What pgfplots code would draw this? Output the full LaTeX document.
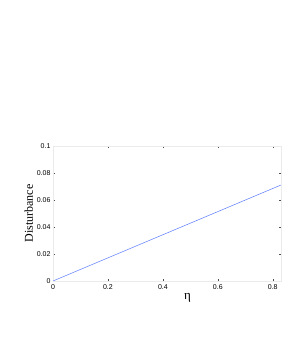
\documentclass[border=0pt]{standalone}
\usepackage{pgfplots}
\pgfplotsset{compat=1.18}
\usepackage{fontspec}
\setmainfont{Liberation Serif}
\newfontfamily\tickfont{Liberation Sans}
\begin{document}
\begin{tikzpicture}[x=1pt,y=1pt]
\useasboundingbox (-53,-82) rectangle (228,281);
\begin{axis}[
  at={(0,0)}, anchor=south west,
  scale only axis,
  width=228pt, height=135pt,
  xmin=0, xmax=0.83, ymin=0, ymax=0.1,
  xtick={0,0.2,0.4,0.6,0.8},
  ytick={0,0.02,0.04,0.06,0.08,0.1},
  xticklabels={0,0.2,0.4,0.6,0.8},
  yticklabels={0,0.02,0.04,0.06,0.08,0.1},
  axis line style={black!8},
  tick style={black!70, line width=0.5pt},
  major tick length=2pt,
  tick align=inside,
  ticklabel style={font=\tickfont\fontsize{7}{8}\selectfont},
  xticklabel style={yshift=0pt},
  yticklabel style={xshift=1pt},
  xlabel={\fontsize{13}{14}\selectfont η},
  ylabel={\fontsize{12}{13}\selectfont Disturbance},
  xlabel style={at={(axis description cs:0.59,0)}, anchor=north, yshift=-9pt},
  ylabel style={yshift=-3pt},
  clip=true,
]
\addplot[color={rgb,255:red,90;green,120;blue,255}, line width=0.5pt] coordinates {(0,0) (0.83,0.0711)};
\end{axis}
\end{tikzpicture}
\end{document}
